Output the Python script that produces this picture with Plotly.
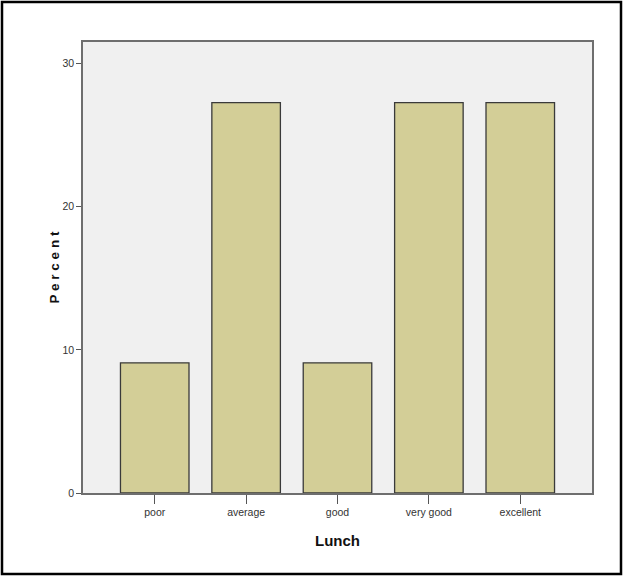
import plotly.graph_objects as go

categories = ["poor", "average", "good", "very good", "excellent"]
percents = [9.09, 27.27, 9.09, 27.27, 27.27]
y_ticks = [0, 10, 20, 30]

W, H = 623, 577
L, R, T, B = 83, 31, 42, 84
pw, ph = W - L - R, H - T - B

fig = go.Figure(go.Bar(
    x=categories, y=percents, width=0.75,
    marker=dict(color="#d3ce97", line=dict(color="#3a3a3a", width=1.3)),
))

fig.update_layout(
    width=W, height=H,
    margin=dict(l=L, r=R, t=T, b=B, pad=0),
    paper_bgcolor="white", plot_bgcolor="#f0f0f0",
    showlegend=False,
    font=dict(family="Liberation Sans Narrow, Arial Narrow, Liberation Sans, sans-serif", size=10.5, color="#333333"),
    xaxis=dict(
        range=[-0.785, 4.785], showgrid=False, showline=True, mirror=True,
        linecolor="#6e6e6e", linewidth=1.5, ticks="outside", ticklen=9, tickwidth=1.2,
        tickcolor="#555555", tickfont=dict(size=10.5, color="#333333"),
        title=dict(text="<b>Lunch</b>", standoff=18,
                   font=dict(family="Liberation Sans, Arial, sans-serif", size=15, color="#111111")),
    ),
    yaxis=dict(
        range=[0, 31.5], tickvals=y_ticks, showgrid=False, zeroline=False, showline=True, mirror=True,
        linecolor="#6e6e6e", linewidth=1.5, ticks="outside", ticklen=5, tickwidth=1.2,
        tickcolor="#555555", tickfont=dict(size=10.5, color="#333333"),
        title=dict(text="<b>P e r c e n t</b>", standoff=0,
                   font=dict(family="Liberation Sans, Arial, sans-serif", size=13.5, color="#111111")),
    ),
)

# outer black frame around the whole figure
fig.add_shape(type="rect", xref="paper", yref="paper",
              x0=(2 - L) / pw, x1=(W - 2 - L) / pw,
              y0=-(H - 3 - T - ph) / ph, y1=1 + (T - 2) / ph,
              line=dict(color="black", width=2.5), fillcolor="rgba(0,0,0,0)", layer="above")

fig.write_html("out.html", config={"displayModeBar": False},
               post_script="document.body.style.margin='0';document.body.style.overflow='hidden';")
